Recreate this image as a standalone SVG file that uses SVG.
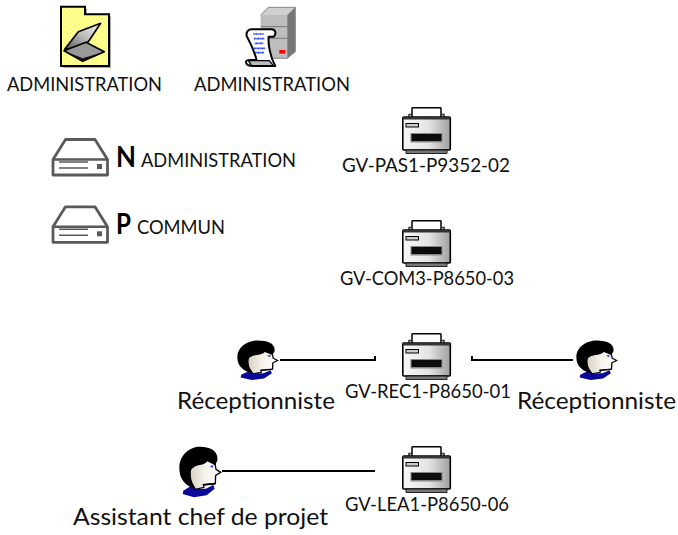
<svg xmlns="http://www.w3.org/2000/svg" width="678" height="535" viewBox="0 0 678 535">
<style>
text{font-family:"Lato","Liberation Sans",sans-serif;fill:#111;font-weight:400}
.l{font-size:19px}
.b{font-size:28px;font-weight:700;fill:#000}
.r{font-size:24px}
.c{fill:none;stroke:#000;stroke-width:2}
.drv{fill:none;stroke:#5a5a5a;stroke-linejoin:round}
.k{stroke:#000;stroke-linejoin:round}
</style>
<defs>
<pattern id="chk" width="4" height="4" patternUnits="userSpaceOnUse"><rect width="4" height="4" fill="#ffff66"/><rect width="2" height="2" fill="#ffffb0"/><rect x="2" y="2" width="2" height="2" fill="#ffffb0"/></pattern>
<linearGradient id="pg" x1="0" x2="1"><stop offset="0" stop-color="#f8f8f8"/><stop offset=".55" stop-color="#e4e4e4"/><stop offset="1" stop-color="#a0a0a0"/></linearGradient>
<linearGradient id="fg" x1="0" x2="1"><stop offset="0" stop-color="#d8d0c2"/><stop offset=".5" stop-color="#f6f3ee"/><stop offset="1" stop-color="#fff"/></linearGradient>
<linearGradient id="lid" x1="0" y1="1" x2="1" y2="0"><stop offset="0" stop-color="#555"/><stop offset=".5" stop-color="#bbb"/><stop offset="1" stop-color="#f4f4f4"/></linearGradient>
<g id="printer">
<path d="M10 10V1.500Q10 .8 11 .8H38Q39 .8 39 1.500V10" fill="#fff" stroke="#000" stroke-width="1.500"/>
<path d="M7 10V7.500H10M39 7.500H42V10" fill="none" stroke="#333" stroke-width="1.500"/>
<rect x=".8" y="10" width="47.500" height="33" rx="1" fill="url(#pg)" stroke="#000" stroke-width="1.600"/>
<rect x="1" y="10" width="47" height="2.500" fill="#333"/>
<rect x="4" y="43" width="41" height="3.500" fill="#777" stroke="#000" stroke-width=".8"/>
<rect x="4" y="16.500" width="12.500" height="3.500" fill="#ccc" stroke="#000"/>
<rect x="8.500" y="26" width="32" height="9.500" fill="#888"/>
<rect x="9.500" y="27" width="30" height="7" fill="#0c0c0c"/>
</g>
<g id="person">
<path d="M40 152 62 138 78 146 108 146 130 134 134 146 110 166 72 172 38 162Z" fill="#0a0a9a"/>
<path d="M60 70 110 60 134 64 138 88 152 97 137 106 136 130 100 134 102 142 76 148 60 120Z" fill="url(#fg)" stroke="#000" stroke-width="4"/>
<path d="M28 84C28 44 60 20 90 20C124 20 146 34 142 62L135 76 112 64C104 76 84 74 74 80C64 86 60 92 62 106C64 124 70 136 76 146C46 138 28 118 28 84Z" fill="#000"/>
<path d="M119 78 130 76 128 84Z" fill="#2030e0"/>
<path d="M100 135 136 131" fill="none" stroke="#000" stroke-width="5"/>
</g>
<g id="drive" class="drv">
<path d="M53 159.500 65.500 139.500H95L107.500 159.500V175H53Z" stroke-width="2.800"/>
<path d="M53 159.500H107.500" stroke-width="2.400"/>
<path d="M59 162H88M59 168H88" stroke-width="1.500"/>
<rect x="97" y="164" width="5" height="5" fill="#5a5a5a" stroke="none"/>
</g>
</defs>

<g id="connectors">
<path class="c" d="M280 360H375V356"/>
<path class="c" d="M472 356V360H573"/>
<path class="c" d="M222 471H375"/>
</g>

<g id="scan-folder">
<path d="M63 9H87V16.500H111V68H63Z" fill="#aaa"/>
<path d="M61 6.700H85V14.300H109V66H61Z" fill="url(#chk)" stroke="#000" stroke-width="2"/>
<g transform="scale(.3333)">
<path d="M194 148 235 95 302 70 265 125 210 146Z" fill="url(#lid)" class="k" stroke-width="5"/>
<path d="M192 152 258 127 313 155 248 184Z" fill="#999" class="k" stroke-width="5"/>
<path d="M192 152 248 184 313 155 248 175Z" fill="#111"/>
</g>
<text class="l" x="7" y="91" textLength="155" lengthAdjust="spacingAndGlyphs">ADMINISTRATION</text>
</g>

<g id="server-doc">
<g transform="scale(.3333)">
<path d="M782 45 805 22H886V155L862 175H782Z" fill="#bdbdbd"/>
<path d="M782 45 805 22H886L862 45Z" fill="#d0d0d0"/>
<path d="M862 45 886 22V155L862 175Z" fill="#777"/>
<path d="M782 80H862M782 115H862" stroke="#777" stroke-width="3"/>
<path d="M782 45 805 22H886V155L862 175H782" fill="none" stroke="#888" stroke-width="3"/>
<rect x="838" y="150" width="18" height="11" fill="#f00"/>
<path d="M755 88H815C826 88 830 100 822 110H806C804 130 810 170 826 198H760C752 198 738 196 738 186C738 178 750 180 770 180C762 150 752 130 740 108C738 96 745 88 755 88Z" fill="#fff" class="k" stroke-width="6"/>
<path d="M745 182H808L820 197H755Z" fill="#bbb" class="k" stroke-width="4"/>
<path d="M760 102H792M762 116H794M764 130H790M762 145H796M766 158H792" stroke="#1030e0" stroke-width="5" stroke-dasharray="3 1"/>
</g>
<text class="l" x="194" y="91" textLength="156" lengthAdjust="spacingAndGlyphs">ADMINISTRATION</text>
</g>

<g id="drive-n">
<use href="#drive"/>
<text class="b" x="116" y="167" textLength="20" lengthAdjust="spacingAndGlyphs">N</text>
<text class="l" x="141" y="167" textLength="155" lengthAdjust="spacingAndGlyphs">ADMINISTRATION</text>
</g>
<g id="drive-p">
<use href="#drive" transform="translate(0,67.300)"/>
<text class="b" x="116" y="234" textLength="15" lengthAdjust="spacingAndGlyphs">P</text>
<text class="l" x="137" y="234" textLength="88" lengthAdjust="spacingAndGlyphs">COMMUN</text>
</g>

<g id="printer-pas1">
<use href="#printer" transform="translate(402,107)"/>
<text class="l" x="342" y="172" textLength="168" lengthAdjust="spacingAndGlyphs">GV-PAS1-P9352-02</text>
</g>
<g id="printer-com3">
<use href="#printer" transform="translate(402,220)"/>
<text class="l" x="340" y="285" textLength="174" lengthAdjust="spacingAndGlyphs">GV-COM3-P8650-03</text>
</g>
<g id="printer-rec1">
<use href="#printer" transform="translate(402,333)"/>
<text class="l" x="345" y="398" textLength="166" lengthAdjust="spacingAndGlyphs">GV-REC1-P8650-01</text>
</g>
<g id="printer-lea1">
<use href="#printer" transform="translate(402,446)"/>
<text class="l" x="345" y="511" textLength="164" lengthAdjust="spacingAndGlyphs">GV-LEA1-P8650-06</text>
</g>

<g id="person-rec-left">
<use href="#person" transform="translate(228.200,335.300) scale(.326,.26)"/>
<text class="r" x="177" y="409" textLength="158" lengthAdjust="spacingAndGlyphs">Réceptionniste</text>
</g>
<g id="person-rec-right">
<use href="#person" transform="translate(567.200,335.300) scale(.326,.26)"/>
<text class="r" x="517" y="409" textLength="159" lengthAdjust="spacingAndGlyphs">Réceptionniste</text>
</g>
<g id="person-assistant">
<use href="#person" transform="translate(170,440) scale(.3333)"/>
<text class="r" x="73" y="525" textLength="255" lengthAdjust="spacingAndGlyphs">Assistant chef de projet</text>
</g>
</svg>
